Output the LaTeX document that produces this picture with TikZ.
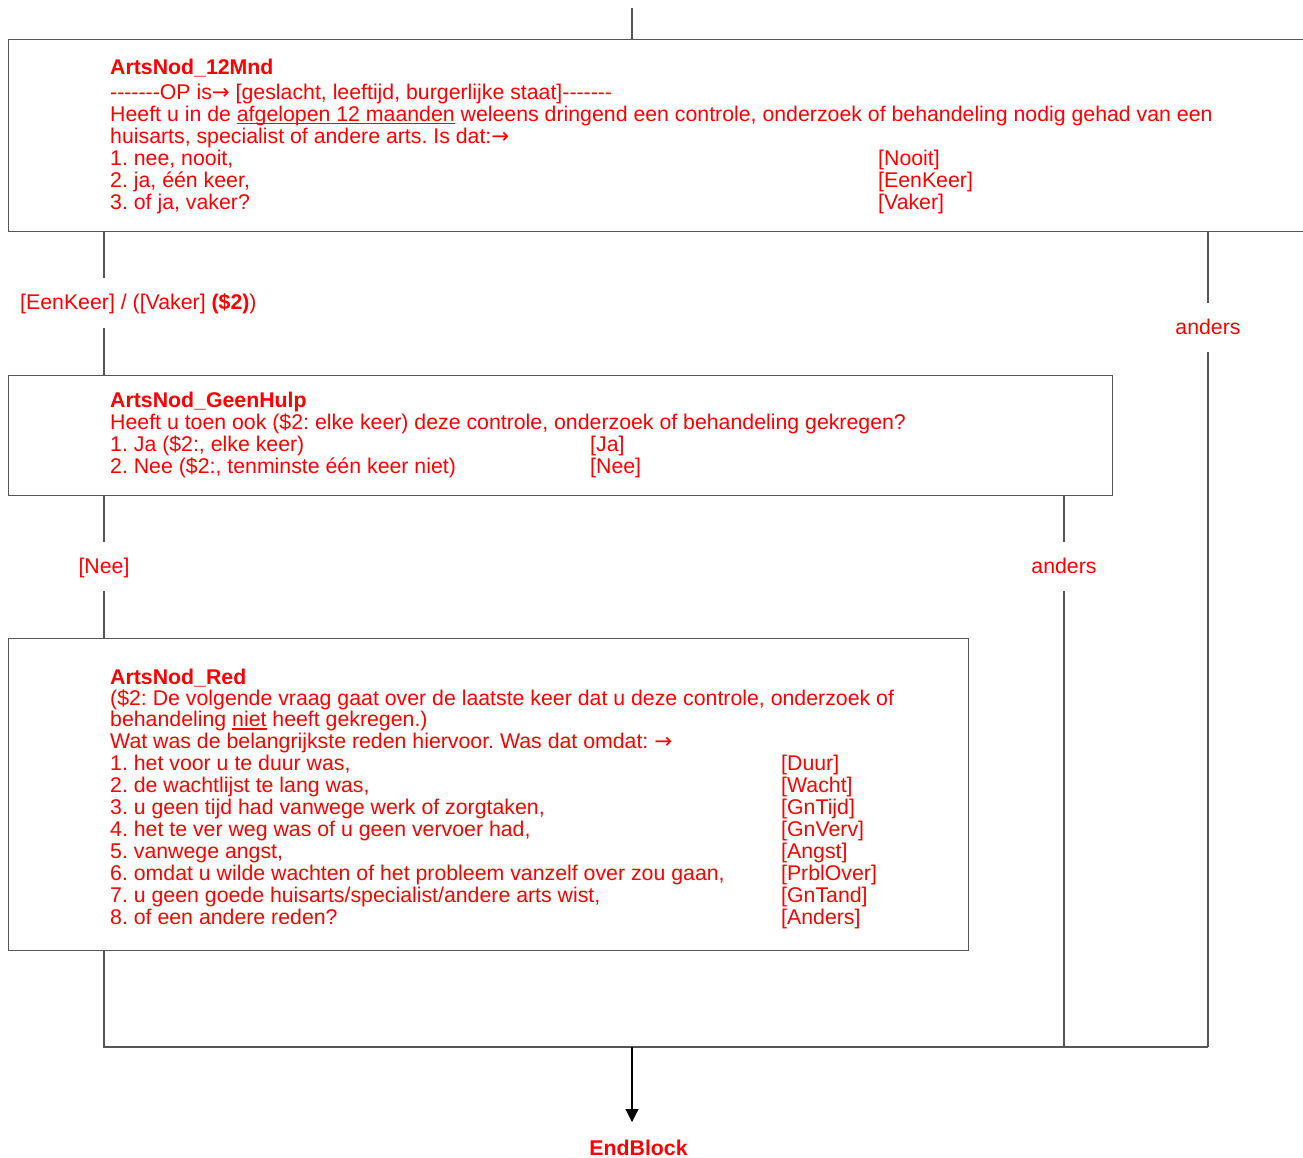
\documentclass[tikz,border=0pt]{standalone}
\usepackage{fontspec}
\setmainfont{Liberation Sans}[Ligatures=TeXOff]
\newfontfamily\qsym{DejaVu Sans}
\usetikzlibrary{arrows.meta}
\frenchspacing
\definecolor{qred}{RGB}{255,0,0}
\definecolor{qline}{RGB}{85,85,85}
\newcommand{\qrow}[3]{\makebox[#1][l]{#2}#3}
\newcommand{\qul}[1]{\setbox0\hbox{#1}\rlap{\rule[-2.6pt]{\wd0}{1.1pt}}\box0\relax}
\newcommand{\qarr}{{\qsym →}}
\begin{document}
\begin{tikzpicture}[x=1pt,y=-1pt,
  qbox/.style={draw=qline, line width=1.2pt, inner sep=0pt, anchor=north west},
  conn/.style={draw=qline, line width=1.2pt},
  qtext/.style={text=qred, inner sep=0pt, anchor=base west, font=\fontsize{21.3}{21.6}\selectfont\frenchspacing},
  qtitle/.style={qtext, font=\fontsize{21.3}{21.6}\selectfont\bfseries},
  qlabel/.style={text=qred, inner sep=0pt, anchor=base, font=\fontsize{21.3}{21.6}\selectfont}]
\clip (0,0) rectangle (1303,1158);

% boxes
\node[qbox, minimum width=1310pt, minimum height=192pt] (b1) at (8,39) {};
\node[qbox, minimum width=1104pt, minimum height=120pt] (b2) at (8,375) {};
\node[qbox, minimum width=960pt, minimum height=312pt] (b3) at (8,638) {};

% box 1 text
\node[qtitle] (t1) at (110,75) {ArtsNod\_12Mnd};
\node[qtext] (x1) at (110,99.5) {\begin{tabular}[t]{@{}l@{}}
-------OP is\qarr\ [geslacht, leeftijd, burgerlijke staat]-------\\
Heeft u in de \qul{afgelopen 12 maanden} weleens dringend een controle, onderzoek of behandeling nodig gehad van een\\
huisarts, specialist of andere arts. Is dat:\qarr\\
\qrow{768pt}{1. nee, nooit,}{[Nooit]}\\
\qrow{768pt}{2. ja, één keer,}{[EenKeer]}\\
\qrow{768pt}{3. of ja, vaker?}{[Vaker]}
\end{tabular}};

% box 2 text
\node[qtitle] (t2) at (110,407) {ArtsNod\_GeenHulp};
\node[qtext] (x2) at (110,429) {\begin{tabular}[t]{@{}l@{}}
Heeft u toen ook (\$2: elke keer) deze controle, onderzoek of behandeling gekregen?\\
\qrow{480pt}{1. Ja (\$2:, elke keer)}{[Ja]}\\
\qrow{480pt}{2. Nee (\$2:, tenminste één keer niet)}{[Nee]}
\end{tabular}};

% box 3 text
\node[qtitle] (t3) at (110,684) {ArtsNod\_Red};
\node[qtext] (x3) at (110,705) {\begin{tabular}[t]{@{}l@{}}
(\$2: De volgende vraag gaat over de laatste keer dat u deze controle, onderzoek of\\
behandeling \qul{niet} heeft gekregen.)\\
Wat was de belangrijkste reden hiervoor. Was dat omdat: \qarr\\
\qrow{671pt}{1. het voor u te duur was,}{[Duur]}\\
\qrow{671pt}{2. de wachtlijst te lang was,}{[Wacht]}\\
\qrow{671pt}{3. u geen tijd had vanwege werk of zorgtaken,}{[GnTijd]}\\
\qrow{671pt}{4. het te ver weg was of u geen vervoer had,}{[GnVerv]}\\
\qrow{671pt}{5. vanwege angst,}{[Angst]}\\
\qrow{671pt}{6. omdat u wilde wachten of het probleem vanzelf over zou gaan,}{[PrblOver]}\\
\qrow{671pt}{7. u geen goede huisarts/specialist/andere arts wist,}{[GnTand]}\\
\qrow{671pt}{8. of een andere reden?}{[Anders]}
\end{tabular}};

% labels
\node[qtext] (l1) at (20,309) {[EenKeer] / ([Vaker] \textbf{(\$2)})};
\node[qlabel] (l2) at (1208,334) {anders};
\node[qlabel] (l3) at (104,573) {[Nee]};
\node[qlabel] (l4) at (1064,573) {anders};
\node[qlabel, font=\fontsize{21.3}{21.6}\selectfont\bfseries] (eb) at (638.5,1155) {EndBlock};

% coordinates
\coordinate (top) at (632,8);
\coordinate (g1a) at (104,278);
\coordinate (g1b) at (104,328);
\coordinate (r1a) at (1208,303);
\coordinate (r1b) at (1208,352);
\coordinate (g2a) at (104,542);
\coordinate (g2b) at (104,591);
\coordinate (r2a) at (1064,542);
\coordinate (r2b) at (1064,591);
\coordinate (jl) at (104,1047);
\coordinate (jr) at (1208,1047);
\coordinate (jm) at (632,1047);
\coordinate (ae) at (632,1122);

% connectors
\draw[conn] (top) -- (top |- b1.north);
\draw[conn] (b1.south -| g1a) -- (g1a);
\draw[conn] (g1b) -- (g1b |- b2.north);
\draw[conn] (b1.south -| r1a) -- (r1a);
\draw[conn] (r1b) -- (jr);
\draw[conn] (b2.south -| g2a) -- (g2a);
\draw[conn] (g2b) -- (g2b |- b3.north);
\draw[conn] (b2.south -| r2a) -- (r2a);
\draw[conn] (r2b) -- (r2b |- jr);
\draw[conn] (b3.south -| jl) -- (jl) -- (jr);
\draw[conn, draw=black, -{Triangle[length=13pt,width=13pt]}] (jm) -- (ae);
\end{tikzpicture}
\end{document}
